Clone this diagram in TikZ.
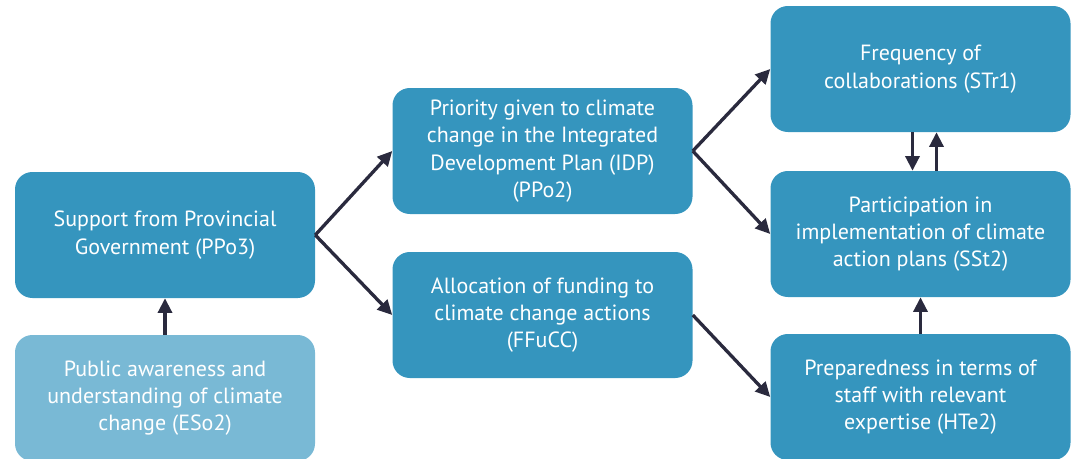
\documentclass[tikz,border=0pt]{standalone}
\usepackage{fontspec}
\setmainfont{PT Sans}
\usepackage{tikz}
\usetikzlibrary{arrows.meta}
\definecolor{boxblue}{RGB}{53,149,190}
\definecolor{boxlight}{RGB}{121,185,213}
\definecolor{arrowdark}{RGB}{42,42,62}
\tikzset{
  factor/.style={fill=boxblue, text=white, rounded corners=13pt, minimum width=225pt,
    minimum height=94.5pt, align=center, inner sep=0pt, font=\fontsize{16.5}{20.5}\selectfont},
  link/.style={draw=arrowdark, line width=2.5pt, -{Triangle[length=11pt,width=10.5pt]}}
}

\begin{document}
\begin{tikzpicture}[x=0.75pt,y=-0.75pt]
  \useasboundingbox (0,0) rectangle (1074,458);
  \clip (0,0) rectangle (1074,458);

  \node[factor] (ppo3) at (165,235) {Support from Provincial\\Government (PPo3)};
  \node[factor,fill=boxlight] (eso2) at (165,398) {Public awareness and\\understanding of climate\\change (ESo2)};
  \node[factor] (ppo2) at (542.5,151) {Priority given to climate\\change in the Integrated\\Development Plan (IDP)\\(PPo2)};
  \node[factor] (ffucc) at (542.5,315) {Allocation of funding to\\climate change actions\\(FFuCC)};
  \node[factor] (str1) at (920.5,69) {Frequency of\\collaborations (STr1)};
  \node[factor] (sst2) at (920.5,234) {Participation in\\implementation of climate\\action plans (SSt2)};
  \node[factor] (hte2) at (920.5,397) {Preparedness in terms of\\staff with relevant\\expertise (HTe2)};

  % links
  \draw[link] (eso2.north) -- (ppo3.south);
  \draw[link] (ppo3.east) -- (ppo2.west);
  \draw[link] (ppo3.east) -- (ffucc.west);
  \draw[link] (ppo2.east) -- (str1.west);
  \draw[link] (ppo2.east) -- (sst2.west);
  \draw[link] (ffucc.east) -- (hte2.west);
  \draw[link] ([xshift=-6pt]str1.south) -- ([xshift=-6pt]sst2.north);
  \draw[link] ([xshift=12pt]sst2.north) -- ([xshift=12pt]str1.south);
  \draw[link] (hte2.north) -- (sst2.south);
\end{tikzpicture}
\end{document}
